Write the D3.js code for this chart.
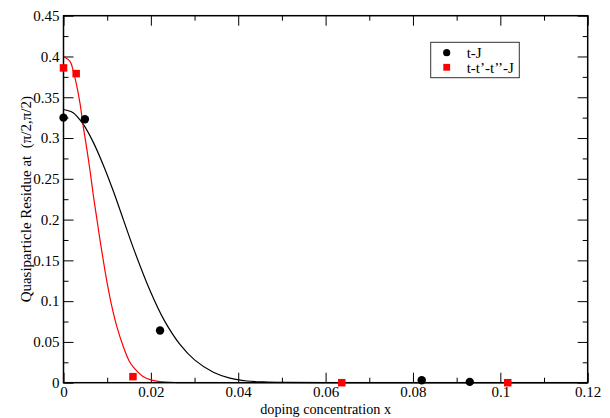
<!DOCTYPE html>
<html>
<head>
<meta charset="utf-8">
<script src="https://cdn.jsdelivr.net/npm/d3@7"></script>
<style>
  html, body { margin: 0; padding: 0; background: #fff; }
  svg { display: block; }
  text { font-family: "Liberation Serif", "Times New Roman", serif; white-space: pre; }
</style>
</head>
<body>
<svg id="chart" width="610" height="418"></svg>
<script>
// ---- data ----
const seriesNames = ["t-J", "t-t\u2019-t\u2019\u2019-J"];
const seriesColors = ["#000000", "#ff0000"];

// measured points
const tJ_x = [0, 0.0049, 0.0221, 0.082, 0.093];
const tJ_y = [0.325, 0.323, 0.064, 0.003, 0.001];
const tt_x = [0, 0.0029, 0.0159, 0.0637, 0.1017];
const tt_y = [0.386, 0.379, 0.0074, 0.0, 0.0];

// fitted curves
const tJfit_x = [0, 0.0022, 0.0045, 0.0068, 0.0091, 0.0114, 0.0137, 0.016, 0.0198, 0.023, 0.0267, 0.030, 0.0343, 0.0381, 0.042, 0.0457, 0.05, 0.06, 0.08, 0.12];
const tJfit_y = [0.335, 0.331, 0.317, 0.295, 0.267, 0.235, 0.200, 0.165, 0.113, 0.077, 0.0466, 0.028, 0.0129, 0.0056, 0.0021, 0.0009, 0.0003, 0.00003, 0, 0];
const ttfit_x = [0, 0.0015, 0.0022, 0.0030, 0.0038, 0.0045, 0.0053, 0.0061, 0.0068, 0.0076, 0.0083, 0.0092, 0.0100, 0.0110, 0.0122, 0.0137, 0.0150, 0.0160, 0.0183, 0.0200, 0.0221, 0.0260, 0.031, 0.06, 0.12];
const ttfit_y = [0.400, 0.394, 0.383, 0.365, 0.342, 0.315, 0.288, 0.259, 0.231, 0.202, 0.177, 0.147, 0.122, 0.095, 0.069, 0.044, 0.027, 0.019, 0.0072, 0.0035, 0.0013, 0.0002, 0, 0, 0];

const xMajor = [0, 0.02, 0.04, 0.06, 0.08, 0.1, 0.12];
const xMajorLabels = ["0", "0.02", "0.04", "0.06", "0.08", "0.1", "0.12"];
const xMinor = [0.01, 0.03, 0.05, 0.07, 0.09, 0.11];
const yMajor = [0, 0.05, 0.1, 0.15, 0.2, 0.25, 0.3, 0.35, 0.4, 0.45];
const yMajorLabels = ["0", "0.05", "0.1", "0.15", "0.2", "0.25", "0.3", "0.35", "0.4", "0.45"];
const yMinor = [0.025, 0.075, 0.125, 0.175, 0.225, 0.275, 0.325, 0.375, 0.425];

const xTitle = "doping concentration x";
const yTitle = "Quasiparticle Residue at  (\u03C0/2,\u03C0/2)";

// ---- layout ----
const L = 63.5, R = 587.7, T = 15.7, B = 382.7;
const svg = d3.select("#chart");
const x = d3.scaleLinear().domain([0, 0.12]).range([L, R]);
const y = d3.scaleLinear().domain([0, 0.45]).range([B, T]);
const FS = 15;

function styleAxis(g) {
  g.select(".domain").remove();
  g.selectAll(".tick line").attr("stroke", "#000").attr("stroke-width", 1);
  g.selectAll("text").attr("font-size", FS).attr("fill", "#000")
    .attr("font-family", '"Liberation Serif", "Times New Roman", serif');
}

// bottom
svg.append("g").attr("transform", `translate(0,${B})`)
  .call(d3.axisBottom(x).tickValues(xMajor).tickFormat((d, i) => xMajorLabels[i]).tickSize(-10).tickPadding(4).tickSizeOuter(0))
  .call(styleAxis);
svg.append("g").attr("transform", `translate(0,${B})`)
  .call(d3.axisBottom(x).tickValues(xMinor).tickFormat("").tickSize(-5).tickSizeOuter(0))
  .call(styleAxis);
// top
svg.append("g").attr("transform", `translate(0,${T})`)
  .call(d3.axisTop(x).tickValues(xMajor).tickFormat("").tickSize(-10).tickSizeOuter(0))
  .call(styleAxis);
svg.append("g").attr("transform", `translate(0,${T})`)
  .call(d3.axisTop(x).tickValues(xMinor).tickFormat("").tickSize(-5).tickSizeOuter(0))
  .call(styleAxis);
// left
svg.append("g").attr("transform", `translate(${L},0)`)
  .call(d3.axisLeft(y).tickValues(yMajor).tickFormat((d, i) => yMajorLabels[i]).tickSize(-10).tickPadding(4).tickSizeOuter(0))
  .call(styleAxis);
svg.append("g").attr("transform", `translate(${L},0)`)
  .call(d3.axisLeft(y).tickValues(yMinor).tickFormat("").tickSize(-5).tickSizeOuter(0))
  .call(styleAxis);
// right
svg.append("g").attr("transform", `translate(${R},0)`)
  .call(d3.axisRight(y).tickValues(yMajor).tickFormat("").tickSize(-10).tickSizeOuter(0))
  .call(styleAxis);
svg.append("g").attr("transform", `translate(${R},0)`)
  .call(d3.axisRight(y).tickValues(yMinor).tickFormat("").tickSize(-5).tickSizeOuter(0))
  .call(styleAxis);

// curves
const line = d3.line().x(d => x(d[0])).y(d => y(Math.max(0, d[1]))).curve(d3.curveCatmullRom.alpha(0.5));
svg.append("path").datum(d3.zip(tJfit_x, tJfit_y)).attr("d", line)
  .attr("fill", "none").attr("stroke", seriesColors[0]).attr("stroke-width", 1.2);
svg.append("path").datum(d3.zip(ttfit_x, ttfit_y)).attr("d", line)
  .attr("fill", "none").attr("stroke", seriesColors[1]).attr("stroke-width", 1.2);

// frame
svg.append("rect").attr("x", L).attr("y", T).attr("width", R - L).attr("height", B - T)
  .attr("fill", "none").attr("stroke", "#000").attr("stroke-width", 1.5);

// markers
svg.append("g").selectAll("circle").data(d3.zip(tJ_x, tJ_y)).join("circle")
  .attr("cx", d => x(d[0])).attr("cy", d => y(d[1])).attr("r", 4.2).attr("fill", seriesColors[0]);
const sq = 7.5;
svg.append("g").selectAll("rect").data(d3.zip(tt_x, tt_y)).join("rect")
  .attr("x", d => x(d[0]) - sq / 2).attr("y", d => y(d[1]) - sq / 2)
  .attr("width", sq).attr("height", sq).attr("fill", seriesColors[1]);

// titles
svg.append("text").attr("x", (L + R) / 2).attr("y", 413.5).attr("text-anchor", "middle")
  .attr("font-size", 14.2).text(xTitle);
svg.append("text").attr("transform", `translate(31,${(T + B) / 2}) rotate(-90)`)
  .attr("text-anchor", "middle").attr("font-size", FS).text(yTitle);

// legend
const lg = svg.append("g");
lg.append("rect").attr("x", 430.7).attr("y", 42.3).attr("width", 88.6).attr("height", 35.4)
  .attr("fill", "#fff").attr("stroke", "#333").attr("stroke-width", 1);
const legY = [52.7, 67.3];
lg.append("circle").attr("cx", 446.7).attr("cy", legY[0]).attr("r", 3.6).attr("fill", seriesColors[0]);
lg.append("rect").attr("x", 446.7 - 3.4).attr("y", legY[1] - 3.4).attr("width", 6.8).attr("height", 6.8).attr("fill", seriesColors[1]);
seriesNames.forEach((n, i) => {
  lg.append("text").attr("x", 466.7).attr("y", legY[i]).attr("dy", "0.35em")
    .attr("font-size", FS).text(n);
});
</script>
</body>
</html>
